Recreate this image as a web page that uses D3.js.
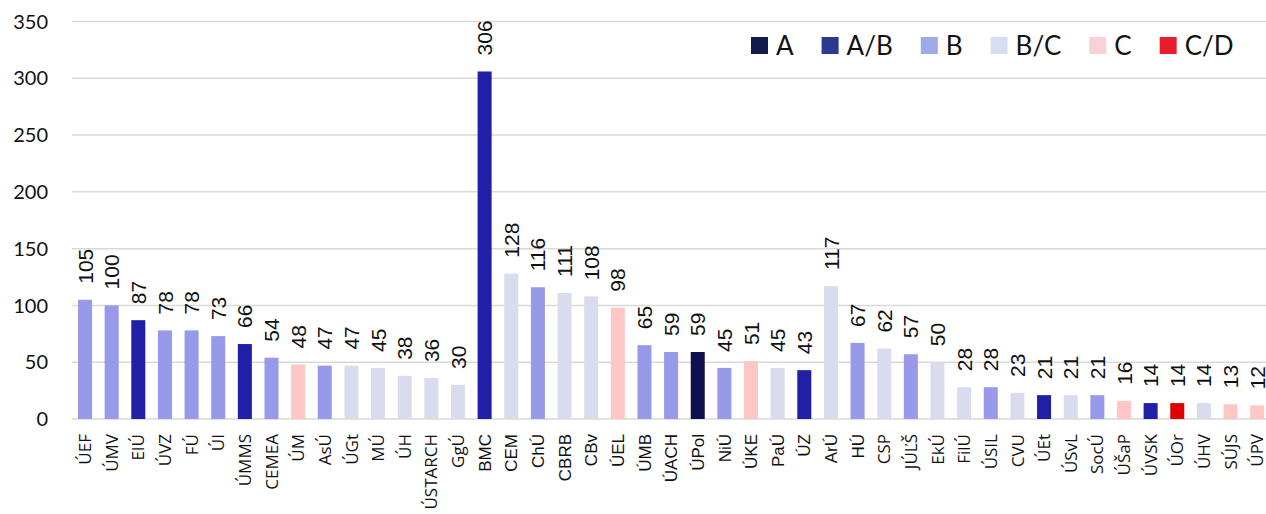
<!DOCTYPE html>
<html lang="cs">
<head>
  <meta charset="UTF-8">
  <title>Institutes by grade</title>
  <script src="https://d3js.org/d3.v7.min.js"></script>
  <style>
    body { margin: 0; background: #fff; }
    .grid line { stroke: #d9d9d9; stroke-width: 1.5px; }
    .ytick { font-family: Lato, "Open Sans", sans-serif; font-size: 20px; fill: #111; }
    .xlab { font-family: "Open Sans", sans-serif; font-size: 17px; fill: #111; }
    .xlab.arial { font-family: "Liberation Sans", Arial, sans-serif; }
    .val { font-family: "Liberation Sans", Arial, sans-serif; font-size: 21px; fill: #111; }
    .legend text { font-family: Lato, "Open Sans", sans-serif; font-size: 26px; fill: #111; }
  </style>
</head>
<body>
  <script>
    // institutes, in chart order
    var categories = ["ÚEF", "ÚMV", "EIÚ", "ÚVZ", "FÚ", "ÚI", "ÚMMS", "CEMEA", "ÚM", "AsÚ",
      "ÚGt", "MÚ", "ÚH", "ÚSTARCH", "GgÚ", "BMC", "CEM", "ChÚ", "CBRB", "CBv",
      "ÚEL", "ÚMB", "ÚACH", "ÚPol", "NiÚ", "ÚKE", "PaÚ", "ÚZ", "ArÚ", "HÚ",
      "CSP", "JÚĽŠ", "EkÚ", "FilÚ", "ÚSIL", "CVU", "ÚEt", "ÚSvL", "SocÚ", "ÚŠaP",
      "ÚVSK", "ÚOr", "ÚHV", "SÚJS", "ÚPV"];
    var values = [105, 100, 87, 78, 78, 73, 66, 54, 48, 47,
      47, 45, 38, 36, 30, 306, 128, 116, 111, 108,
      98, 65, 59, 59, 45, 51, 45, 43, 117, 67,
      62, 57, 50, 28, 28, 23, 21, 21, 21, 16,
      14, 14, 14, 13, 12];
    var grades = ["B", "B", "A/B", "B", "B", "B", "A/B", "B", "C", "B",
      "B/C", "B/C", "B/C", "B/C", "B/C", "A/B", "B/C", "B", "B/C", "B/C",
      "C", "B", "B", "A", "B", "C", "B/C", "A/B", "B/C", "B",
      "B/C", "B", "B/C", "B/C", "B", "B/C", "A/B", "B/C", "B", "C",
      "A/B", "C/D", "B/C", "C", "C"];
    var gradeNames = ["A", "A/B", "B", "B/C", "C", "C/D"];
    var yTicks = [0, 50, 100, 150, 200, 250, 300, 350];

    var w = 1266, h = 514;
    var barColor = d3.scaleOrdinal()
      .domain(gradeNames)
      .range(["#0f1050", "#1f1fa8", "#9999ea", "#dadcee", "#ffc6c6", "#e00000"]);
    var legendColor = d3.scaleOrdinal()
      .domain(gradeNames)
      .range(["#141b4d", "#2a3a92", "#9eaae3", "#d7def1", "#f9d2d8", "#e91d2b"]);

    var svg = d3.select("body").append("svg")
      .attr("width", w)
      .attr("height", h);

    var x = d3.scaleBand()
      .domain(categories)
      .range([71.7, 1270.5])
      .paddingInner(0.474)
      .paddingOuter(0.237);

    var y = d3.scaleLinear()
      .domain([0, 350])
      .range([419, 21.5]);

    // gridlines
    svg.append("g").attr("class", "grid")
      .selectAll("line")
      .data(yTicks)
      .enter().append("line")
      .attr("x1", 72).attr("x2", w)
      .attr("y1", function(d) { return y(d); })
      .attr("y2", function(d) { return y(d); });

    svg.append("g")
      .selectAll("text")
      .data(yTicks)
      .enter().append("text")
      .attr("class", "ytick")
      .attr("x", 48)
      .attr("y", function(d) { return y(d); })
      .attr("dy", "0.36em")
      .attr("text-anchor", "end")
      .text(function(d) { return d; });

    // bars
    svg.append("g")
      .selectAll("rect")
      .data(categories)
      .enter().append("rect")
      .attr("x", function(d) { return x(d); })
      .attr("y", function(d, i) { return y(values[i]); })
      .attr("width", x.bandwidth())
      .attr("height", function(d, i) { return y(0) - y(values[i]); })
      .attr("fill", function(d, i) { return barColor(grades[i]); });

    // value labels, rotated
    svg.append("g")
      .selectAll("text")
      .data(categories)
      .enter().append("text")
      .attr("class", "val")
      .attr("transform", function(d, i) {
        return "translate(" + (x(d) + x.bandwidth() / 2) + "," + (y(values[i]) - 16) + ") rotate(-90)";
      })
      .attr("dy", "0.36em")
      .text(function(d, i) { return values[i]; });

    // category labels
    svg.append("g")
      .selectAll("text")
      .data(categories)
      .enter().append("text")
      .attr("class", function(d, i) { return (i >= 15 && i <= 29) ? "xlab arial" : "xlab"; })
      .attr("transform", function(d) {
        return "translate(" + (x(d) + x.bandwidth() / 2) + ",434) rotate(-90)";
      })
      .attr("dy", "0.36em")
      .attr("text-anchor", "end")
      .text(function(d) { return d; });

    // legend
    var legend = svg.append("g").attr("class", "legend");
    var lx = 751;
    gradeNames.forEach(function(g) {
      legend.append("rect")
        .attr("x", lx).attr("y", 37)
        .attr("width", 17).attr("height", 17)
        .attr("fill", legendColor(g));
      var t = legend.append("text")
        .attr("x", lx + 25).attr("y", 55)
        .text(g);
      lx += 25 + t.node().getComputedTextLength() + 28;
    });
  </script>
</body>
</html>
